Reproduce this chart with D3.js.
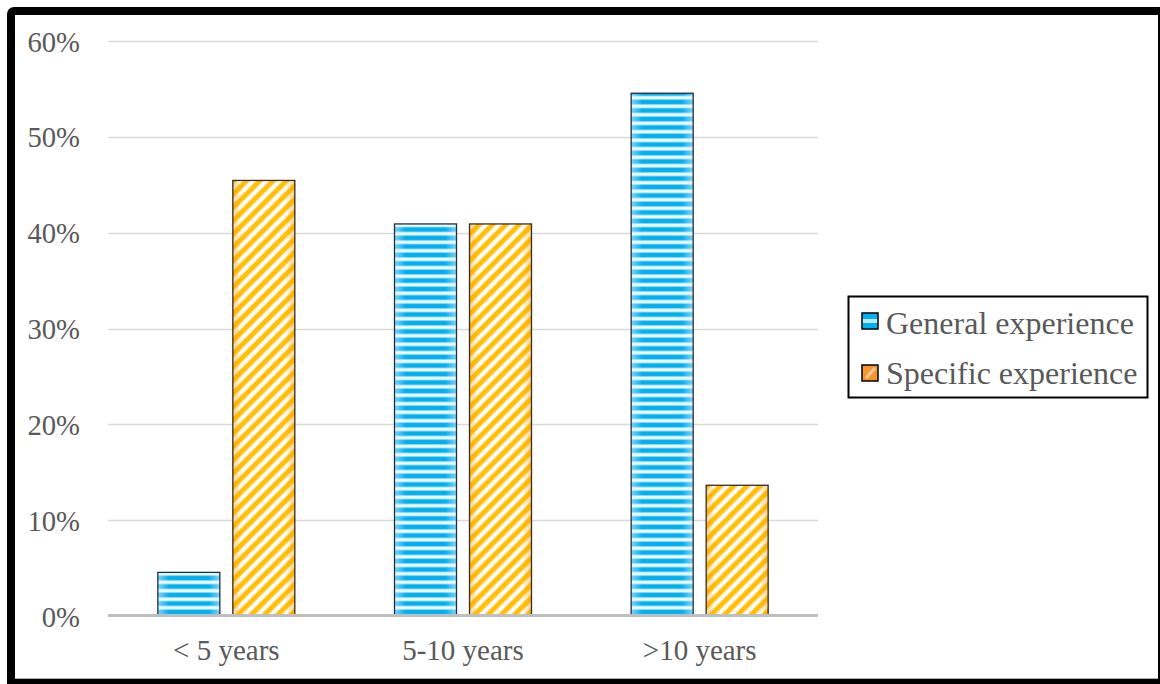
<!DOCTYPE html>
<html>
<head>
<meta charset="utf-8">
<script src="https://cdn.jsdelivr.net/npm/d3@7"></script>
<style>
  html, body { margin: 0; padding: 0; background: #fff; }
  svg { display: block; }
  text { font-family: "Liberation Serif", "DejaVu Serif", serif; }
</style>
</head>
<body>
<svg id="chart" width="1160" height="684"></svg>
<script>
const categories = ["< 5 years", "5-10 years", ">10 years"];
const seriesNames = ["General experience", "Specific experience"];
const generalValues = [0.0455, 0.4091, 0.5455];
const specificValues = [0.4545, 0.4091, 0.1364];
const yTicks = [0, 0.1, 0.2, 0.3, 0.4, 0.5, 0.6];

(function () {
const svg = d3.select("#chart");
const W = 1160, H = 684;

// frame
svg.append("rect").attr("x", 0).attr("y", 0).attr("width", W).attr("height", H).attr("fill", "#fff");
svg.append("rect").attr("x", 7).attr("y", 7).attr("width", W - 7 + 10).attr("height", H - 7 + 10)
  .attr("rx", 7).attr("fill", "#000");
svg.append("rect").attr("x", 15).attr("y", 15).attr("width", 1143).attr("height", 663).attr("fill", "#fff");
svg.append("line").attr("x1", 15).attr("x2", 1158).attr("y1", 678.5).attr("y2", 678.5)
  .attr("stroke", "#b0b0b0").attr("stroke-width", 1);

const defs = svg.append("defs");

// blue horizontal stripes
const pb = defs.append("pattern").attr("id", "pBlue").attr("patternUnits", "userSpaceOnUse")
  .attr("width", 10).attr("height", 8.5);
pb.append("rect").attr("width", 10).attr("height", 8.5).attr("fill", "#00b0f0");
pb.append("rect").attr("y", 2.2).attr("width", 10).attr("height", 4.1).attr("fill", "#a8e0f7");
pb.append("rect").attr("y", 3.0).attr("width", 10).attr("height", 2.5).attr("fill", "#f6fcff");

// orange diagonal stripes
const po = defs.append("pattern").attr("id", "pOrange").attr("patternUnits", "userSpaceOnUse")
  .attr("width", 9.4).attr("height", 9.4).attr("patternTransform", "rotate(45)");
po.append("rect").attr("width", 9.4).attr("height", 9.4).attr("fill", "#ffc000");
po.append("rect").attr("x", 2.4).attr("width", 5).attr("height", 9.4).attr("fill", "#fde0b8");
po.append("rect").attr("x", 3.3).attr("width", 3.2).attr("height", 9.4).attr("fill", "#ffffff");

// edge shading overlays
const gb = defs.append("linearGradient").attr("id", "gBlue").attr("x1", 0).attr("x2", 1).attr("y1", 0).attr("y2", 0);
gb.append("stop").attr("offset", "0%").attr("stop-color", "#dff3fb").attr("stop-opacity", 0.55);
gb.append("stop").attr("offset", "18%").attr("stop-color", "#dff3fb").attr("stop-opacity", 0);
gb.append("stop").attr("offset", "82%").attr("stop-color", "#dff3fb").attr("stop-opacity", 0);
gb.append("stop").attr("offset", "100%").attr("stop-color", "#dff3fb").attr("stop-opacity", 0.55);
const go = defs.append("linearGradient").attr("id", "gOrange").attr("x1", 0).attr("x2", 1).attr("y1", 0).attr("y2", 0);
go.append("stop").attr("offset", "0%").attr("stop-color", "#f0a000").attr("stop-opacity", 0.45);
go.append("stop").attr("offset", "15%").attr("stop-color", "#f0a000").attr("stop-opacity", 0);
go.append("stop").attr("offset", "85%").attr("stop-color", "#f0a000").attr("stop-opacity", 0);
go.append("stop").attr("offset", "100%").attr("stop-color", "#f0a000").attr("stop-opacity", 0.45);

const pLeft = 108, pRight = 818, pTop = 41, pBottom = 616;
const y = d3.scaleLinear().domain([0, 0.6]).range([pBottom, pTop]);
const x0 = d3.scaleBand().domain(categories).range([pLeft, pRight]).padding(0);
const groupW = 137;
const x1 = d3.scaleBand().domain(seriesNames)
  .range([(x0.bandwidth() - groupW) / 2, (x0.bandwidth() + groupW) / 2])
  .paddingInner(0.1733).paddingOuter(0);

// gridlines
const grid = svg.append("g");
grid.selectAll("line").data(yTicks.filter(t => t > 0)).join("line")
  .attr("x1", pLeft).attr("x2", pRight)
  .attr("y1", d => Math.round(y(d)) + 0.5).attr("y2", d => Math.round(y(d)) + 0.5)
  .attr("stroke", "#d9d9d9").attr("stroke-width", 1.5);

// y labels
const yAxis = d3.axisLeft(y).tickValues(yTicks).tickFormat(d3.format(".0%")).tickSize(0).tickPadding(0);
const yg = svg.append("g").attr("transform", "translate(80,0)").call(yAxis);
yg.select(".domain").remove();
yg.selectAll("text").attr("fill", "#595959").attr("font-size", 28.7)
  .attr("font-family", "Liberation Serif").attr("dy", "0.35em");

// bars
const data = categories.map((c, i) => ({ cat: c, vals: [generalValues[i], specificValues[i]] }));
const fills = ["url(#pBlue)", "url(#pOrange)"];
const overlays = ["url(#gBlue)", "url(#gOrange)"];
const groups = svg.append("g").selectAll("g").data(data).join("g")
  .attr("transform", d => `translate(${x0(d.cat)},0)`);
groups.each(function (d) {
  const g = d3.select(this);
  d.vals.forEach((v, k) => {
    const bx = x1(seriesNames[k]);
    const by = y(v);
    const bh = y(0) - y(v);
    g.append("rect").attr("x", bx).attr("y", by).attr("width", x1.bandwidth()).attr("height", bh)
      .attr("fill", fills[k]);
    g.append("rect").attr("x", bx).attr("y", by).attr("width", x1.bandwidth()).attr("height", bh)
      .attr("fill", overlays[k]);
    g.append("rect").attr("x", bx).attr("y", by).attr("width", x1.bandwidth()).attr("height", bh)
      .attr("fill", "none").attr("stroke", k === 0 ? "#1f2f3f" : "#3a2a20").attr("stroke-width", 1.3);
  });
});

// x axis
svg.append("line").attr("x1", pLeft).attr("x2", pRight).attr("y1", pBottom - 0.5).attr("y2", pBottom - 0.5)
  .attr("stroke", "#bfbfbf").attr("stroke-width", 3);
const xAxis = d3.axisBottom(x0).tickSize(0).tickPadding(0);
const xg = svg.append("g").attr("transform", `translate(0,${pBottom})`).call(xAxis);
xg.select(".domain").remove();
xg.selectAll("text").attr("fill", "#595959").attr("font-size", 29)
  .attr("font-family", "Liberation Serif").attr("y", 44).attr("dy", 0);

// legend
const lg = svg.append("g");
lg.append("rect").attr("x", 848.5).attr("y", 296.5).attr("width", 299).attr("height", 101)
  .attr("fill", "#fff").attr("stroke", "#000").attr("stroke-width", 2);
seriesNames.forEach((s, i) => {
  const ry = 313 + i * 52;
  lg.append("rect").attr("x", 862).attr("y", ry).attr("width", 16).attr("height", 16)
    .attr("fill", i === 0 ? "#00b0f0" : "#f7962f");
  if (i === 0) {
    lg.append("rect").attr("x", 862).attr("y", ry + 6).attr("width", 16).attr("height", 4).attr("fill", "#bfe8fa");
  } else {
    lg.append("line").attr("x1", 866).attr("y1", ry + 13).attr("x2", 875).attr("y2", ry + 3)
      .attr("stroke", "#fbc89a").attr("stroke-width", 3);
  }
  lg.append("rect").attr("x", 862).attr("y", ry).attr("width", 16).attr("height", 16)
    .attr("fill", "none").attr("stroke", "#000").attr("stroke-width", 1.5);
  lg.append("text").attr("x", 886).attr("y", 334 + i * 50).attr("fill", "#595959")
    .attr("font-size", 32).text(s);
});
})();
</script>
</body>
</html>
